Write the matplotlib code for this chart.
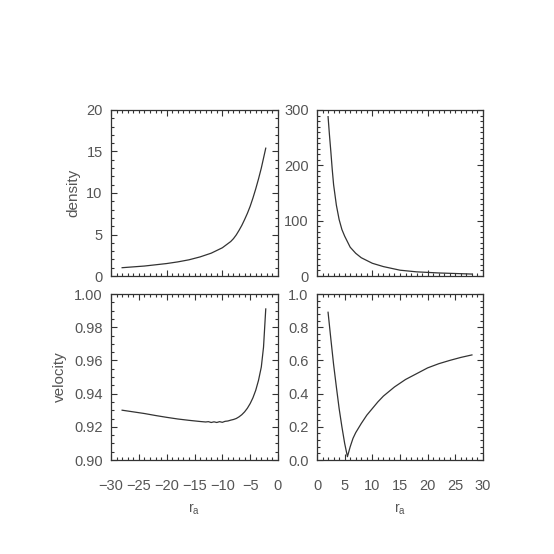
import matplotlib
matplotlib.use('Agg')
import matplotlib.pyplot as plt
from matplotlib.ticker import MultipleLocator

plt.rcParams['font.family'] = ['Liberation Sans', 'DejaVu Sans']
plt.rcParams['mathtext.default'] = 'regular'

# accretion side (r < 0)
r_left = [-28, -26, -24, -22, -20, -18, -16, -14, -12, -10, -9, -8.5, -8, -7.5, -7, -6.5, -6, -5.5, -5,
          -4.5, -4, -3.5, -3, -2.6, -2.2]
dens_left = [1.0, 1.1, 1.2, 1.35, 1.5, 1.7, 1.95, 2.3, 2.75, 3.4, 3.9, 4.15, 4.5, 4.95, 5.5, 6.1, 6.8, 7.55, 8.4,
             9.4, 10.5, 11.7, 13.0, 14.2, 15.4]

r_vleft = [-28, -26, -24, -22, -20, -18, -16, -14, -13, -12.5, -12, -11.5, -11, -10.5, -10, -9.5, -9, -8.5,
           -8, -7.5, -7, -6.5, -6, -5.5, -5, -4.5, -4, -3.5, -3, -2.6, -2.2]
vel_left = [0.9300, 0.9290, 0.9280, 0.9268, 0.9257, 0.9247, 0.9239, 0.9232, 0.9229, 0.9231, 0.9226, 0.9230,
            0.9226, 0.9231, 0.9227, 0.9233, 0.9235, 0.9240, 0.9244, 0.9250, 0.9260, 0.9273, 0.9290, 0.9312,
            0.9340, 0.9375, 0.9420, 0.9480, 0.9560, 0.9680, 0.9910]

# wind side (r > 0)
r_right = [2.0, 2.25, 2.5, 2.75, 3.0, 3.5, 4.0, 4.5, 5.0, 6.0, 7.0, 8.0, 10.0, 12.0, 15.0, 18.0, 22.0, 25.0, 28.0]
dens_right = [288, 255, 225, 193, 165, 128, 102, 84, 72, 52, 41, 33, 23, 17, 10.5, 7.5, 5.5, 4.5, 3.5]

r_vright = [2.0, 2.5, 3.0, 3.5, 4.0, 4.5, 5.0, 5.5, 6.0, 6.5, 7.0, 8.0, 9.0, 10.0, 11.0, 12.0, 14.0, 16.0,
            18.0, 20.0, 22.0, 24.0, 26.0, 28.0]
vel_right = [0.89, 0.73, 0.575, 0.44, 0.31, 0.20, 0.10, 0.02, 0.08, 0.13, 0.165, 0.22, 0.27, 0.31, 0.35, 0.385,
             0.44, 0.485, 0.52, 0.555, 0.58, 0.60, 0.618, 0.633]

fg = '#333333'
txt = '#555555'

fig = plt.figure(figsize=(5.54, 5.54), dpi=100)
W, H = 554.0, 554.0
ax_tl = fig.add_axes([111 / W, 1 - 276 / H, 167 / W, 166 / H])
ax_tr = fig.add_axes([317 / W, 1 - 276 / H, 166 / W, 166 / H])
ax_bl = fig.add_axes([111 / W, 1 - 460 / H, 167 / W, 166 / H])
ax_br = fig.add_axes([317 / W, 1 - 460 / H, 166 / W, 166 / H])

ax_tl.plot(r_left, dens_left, color=fg, lw=0.9)
ax_tr.plot(r_right, dens_right, color=fg, lw=0.9)
ax_bl.plot(r_vleft, vel_left, color=fg, lw=0.9)
ax_br.plot(r_vright, vel_right, color=fg, lw=0.9)

def style(ax, xlim, ylim, xmaj, xmin, ymaj, ymin, xlabels):
    ax.set_xlim(*xlim)
    ax.set_ylim(*ylim)
    ax.xaxis.set_major_locator(MultipleLocator(xmaj))
    ax.xaxis.set_minor_locator(MultipleLocator(xmin))
    ax.yaxis.set_major_locator(MultipleLocator(ymaj))
    ax.yaxis.set_minor_locator(MultipleLocator(ymin))
    ax.tick_params(which='both', direction='in', top=True, right=True, color=fg, width=0.8,
                   labelcolor=txt, labelsize=10.5)
    ax.tick_params(which='major', length=4.5)
    ax.tick_params(which='minor', length=2.2)
    ax.tick_params(axis='x', pad=14)
    ax.tick_params(axis='y', pad=6)
    if not xlabels:
        ax.tick_params(axis='x', labelbottom=False)
    for s in ax.spines.values():
        s.set_color(fg)
        s.set_linewidth(0.9)

style(ax_tl, (-30, 0), (0, 20), 10, 1, 5, 1, False)
style(ax_tr, (0, 30), (0, 300), 10, 1, 100, 10, False)
style(ax_bl, (-30, 0), (0.90, 1.00), 5, 1, 0.02, 0.005, True)
style(ax_br, (0, 30), (0.0, 1.0), 5, 1, 0.2, 0.04, True)

ax_tl.yaxis.set_major_formatter(plt.FormatStrFormatter('%d'))
ax_tr.yaxis.set_major_formatter(plt.FormatStrFormatter('%d'))
ax_bl.yaxis.set_major_formatter(plt.FormatStrFormatter('%.2f'))
ax_br.yaxis.set_major_formatter(plt.FormatStrFormatter('%.1f'))
ax_bl.xaxis.set_major_formatter(plt.FuncFormatter(lambda v, p: '%d' % v if v >= 0 else '\u2212%d' % -v))

ax_tl.set_ylabel('density', color=txt, fontsize=11, labelpad=4)
ax_bl.set_ylabel('velocity', color=txt, fontsize=11, labelpad=5)
ax_bl.set_xlabel('$r_a$', color=txt, fontsize=10, labelpad=6)
ax_br.set_xlabel('$r_a$', color=txt, fontsize=10, labelpad=6)

fig.savefig('out.png', dpi=100)
